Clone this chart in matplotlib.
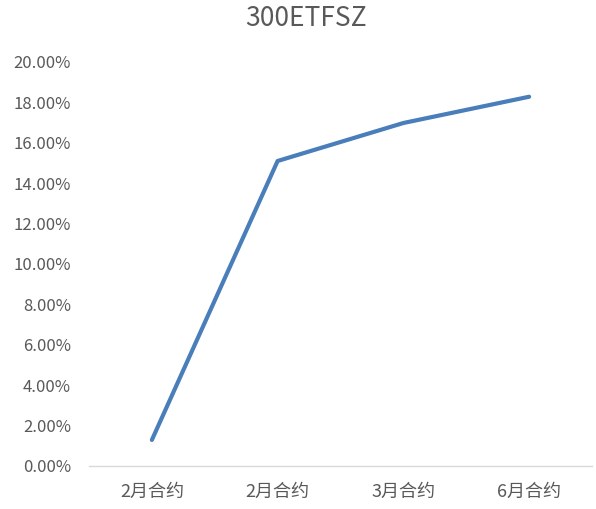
import matplotlib
matplotlib.use('Agg')

import matplotlib.pyplot as plt
from matplotlib.ticker import PercentFormatter, MultipleLocator

plt.rcParams['font.family'] = ['Noto Sans CJK SC', 'DejaVu Sans']
plt.rcParams['axes.unicode_minus'] = False

# Данные
categories = ['2月合约', '2月合约', '3月合约', '6月合约']
values = [0.0129, 0.1510, 0.1698, 0.1828]
title = '300ETFSZ'

text_color = '#595959'
line_color = '#4a7ebb'

fig = plt.figure(figsize=(5.96, 5.09), dpi=100)
ax = fig.add_axes([89 / 596, 43 / 509, 503 / 596, 404 / 509])

x = list(range(len(categories)))
ax.plot(x, values, color=line_color, linewidth=3, solid_capstyle='round',
        solid_joinstyle='round')

ax.set_xlim(-0.5, len(categories) - 0.5)
ax.set_ylim(0, 0.20)
ax.yaxis.set_major_locator(MultipleLocator(0.02))
ax.yaxis.set_major_formatter(PercentFormatter(xmax=1, decimals=2))
ax.set_xticks(x)
ax.set_xticklabels(categories)

for side in ['top', 'right', 'left']:
    ax.spines[side].set_visible(False)
ax.spines['bottom'].set_color('#d9d9d9')
ax.spines['bottom'].set_linewidth(1)

ax.tick_params(axis='both', length=0, colors=text_color)
ax.tick_params(axis='y', pad=13, labelsize=12)
ax.tick_params(axis='x', pad=12, labelsize=13)

# заголовок чуть правее центра, как в оригинале
fig.text(306 / 596, 1 - 19 / 509, title, ha='center', va='center',
         fontsize=19, color=text_color)

fig.savefig('out.png', dpi=100)
plt.close(fig)
